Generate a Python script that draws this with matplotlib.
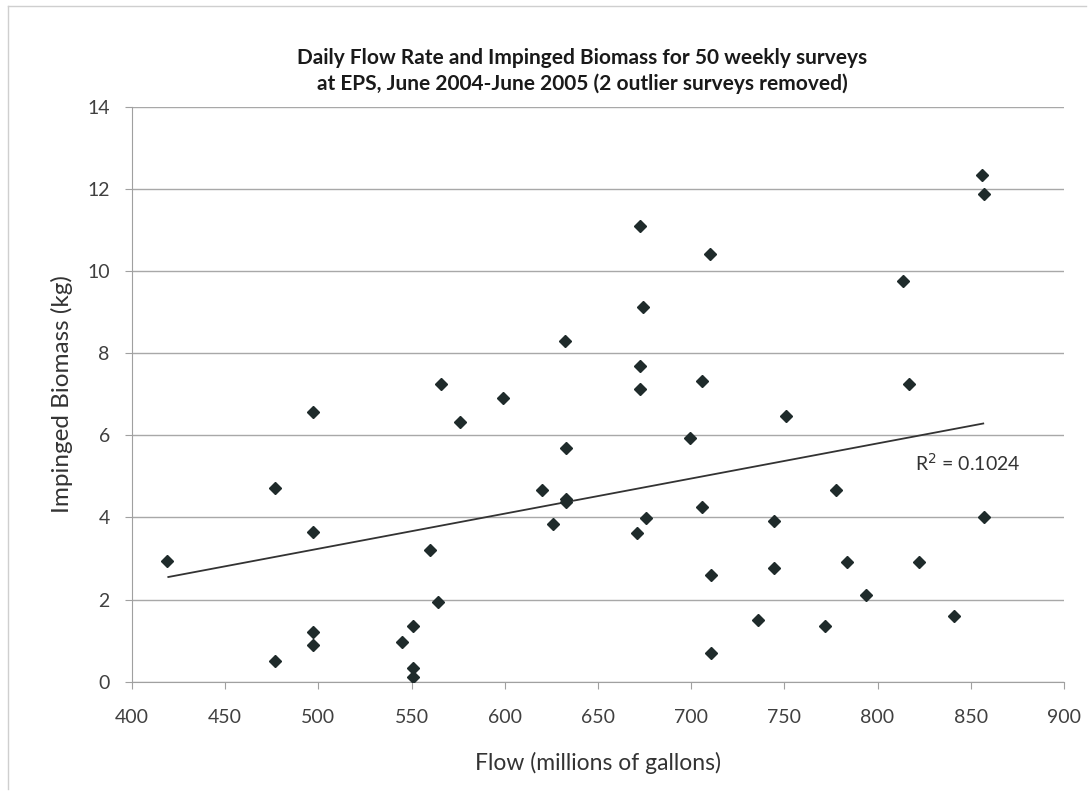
import numpy as np
import matplotlib
matplotlib.use('Agg')
import matplotlib.pyplot as plt
from matplotlib.lines import Line2D

# flow (millions of gallons) and impinged biomass (kg)
flow = [419, 477, 477, 497, 497, 497, 497, 545, 551, 551, 551, 560, 564, 566,
        576, 599, 620, 626, 632.5, 632.7, 632.7, 632.7, 671, 672.5, 674, 672.5,
        672.5, 675.6, 699.4, 705.6, 705.6, 710, 710.5, 710.6, 736, 744.6, 744.6,
        750.7, 771.8, 777.5, 783.4, 793.6, 813.5, 817, 822.4, 841, 855.8, 857,
        857.2]
biomass = [2.94, 4.72, 0.50, 6.57, 3.65, 1.20, 0.89, 0.97, 1.36, 0.34, 0.12,
           3.20, 1.93, 7.26, 6.33, 6.90, 4.68, 3.83, 8.31, 5.69, 4.46, 4.38,
           3.61, 11.11, 9.14, 7.70, 7.14, 3.98, 5.94, 7.33, 4.26, 10.41, 2.60,
           0.71, 1.50, 3.92, 2.76, 6.47, 1.36, 4.66, 2.92, 2.11, 9.76, 7.25,
           2.92, 1.60, 12.35, 11.87, 4.01]

# linear trendline end points as drawn in the chart
trend_x = [419.5, 856.7]
trend_y = [2.55, 6.29]
r2_label = 'R$^2$ = 0.1024'

x_ticks = [400, 450, 500, 550, 600, 650, 700, 750, 800, 850, 900]
y_ticks = [0, 2, 4, 6, 8, 10, 12, 14]

plt.rcParams['font.family'] = ['Lato', 'DejaVu Sans']

fig = plt.figure(figsize=(10.88, 7.97), dpi=100)
ax = fig.add_axes([0.1213, 0.1447, 0.8566, 0.721])

ax.plot(trend_x, trend_y, color='#333333', lw=1.3, zorder=3)

ax.plot(flow, biomass, linestyle='none', marker='D', markersize=6.5,
        color='#1f2b2b', zorder=4)

ax.text(820, 5.32, r2_label, fontsize=14, color='#333333', va='center', ha='left')

ax.set_xlim(400, 900)
ax.set_ylim(0, 14)
ax.set_xticks(x_ticks)
ax.set_yticks(y_ticks)
ax.yaxis.grid(True, color='#a8a8a8', lw=1)
ax.set_axisbelow(True)

for s in ['top', 'right']:
    ax.spines[s].set_visible(False)
for s in ['left', 'bottom']:
    ax.spines[s].set_color('#a0a0a0')
ax.tick_params(axis='both', colors='#a0a0a0', length=5, labelsize=14,
               labelcolor='#404040')
ax.tick_params(axis='x', pad=15)
ax.tick_params(axis='y', pad=11)

ax.set_xlabel('Flow (millions of gallons)', fontsize=16.5, color='#333333', labelpad=18)
ax.set_ylabel('Impinged Biomass (kg)', fontsize=17.5, color='#333333', labelpad=10)
ax.set_title('Daily Flow Rate and Impinged Biomass for 50 weekly surveys\n'
             'at EPS, June 2004-June 2005 (2 outlier surveys removed)',
             fontsize=15, fontweight='bold', color='#1a1a1a', pad=12,
             linespacing=1.35, x=0.483)

# light frame around the chart area (left and top edges visible)
fig.add_artist(Line2D([0.007, 0.007], [0.01, 0.993], color='#cfcfcf', lw=1))
fig.add_artist(Line2D([0.007, 0.998], [0.993, 0.993], color='#cfcfcf', lw=1))

fig.savefig('out.png', dpi=100)
